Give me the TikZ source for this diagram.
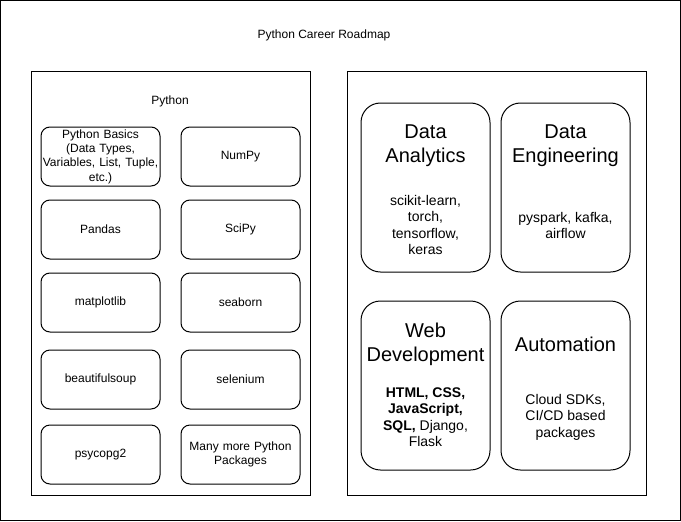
\documentclass[tikz,border=0pt]{standalone}
\usepackage{fontspec}
\setmainfont{Liberation Sans}
\usetikzlibrary{positioning}

\begin{document}
\begin{tikzpicture}
		[x=0.75pt,y=-0.75pt,line width=0.75pt,
		frame/.style={draw,minimum height=318pt,inner sep=0pt},
		small box/.style={draw,rounded corners=6.75pt,minimum width=89.25pt,minimum height=44.25pt,inner sep=1pt,text width=87pt,align=center,font=\fontsize{9}{10.8}\selectfont},
		big box/.style={draw,rounded corners=14.6pt,minimum width=96.75pt,minimum height=126.75pt,inner sep=0pt},
		title text/.style={align=center,inner sep=0pt,font=\fontsize{15}{18}\selectfont},
		sub text/.style={align=center,inner sep=0pt,font=\fontsize{10.5}{12.3}\selectfont}]
		\useasboundingbox (0,0) rectangle (681,521);
		\draw (0.5,0.5) rectangle (680.5,520.5);
		
		\node[font=\fontsize{9}{10.8}\selectfont] (title) at (324,35) {Python Career Roadmap};
		
		% left frame: python packages
		\node[frame,minimum width=209.25pt] (left) at (170.5,283) {};
		\node[font=\fontsize{9}{10.8}\selectfont] (python) at (170,101) {Python};
		
		\node[small box] (basics) at (100.5,156.5) {Python Basics\\(Data Types,\\Variables, List, Tuple,\\etc.)};
		\node[small box] (numpy) at (240.5,156.5) {NumPy};
		\node[small box] (pandas) at (100.5,229.5) {Pandas};
		\node[small box] (scipy) at (240.5,229.5) {SciPy};
		\node[small box] (matplotlib) at (100.5,302.5) {matplotlib};
		\node[small box] (seaborn) at (240.5,302.5) {seaborn};
		\node[small box] (bs4) at (100.5,379.5) {beautifulsoup};
		\node[small box] (selenium) at (240.5,379.5) {selenium};
		\node[small box] (psycopg) at (100.5,454.5) {psycopg2};
		\node[small box] (more) at (240.5,454.5) {Many more Python\\Packages};
		
		% right frame: career paths
		\node[frame,minimum width=224.25pt] (right) at (496.5,283) {};
		
		\node[big box] (da) at (425.5,187.5) {};
		\node[title text] (da title) at (425.5,146) {Data\\Analytics};
		\node[sub text] (da sub) at (425.5,225) {scikit-learn,\\torch,\\tensorflow,\\keras};
		
		\node[big box] (de) at (565.5,187.5) {};
		\node[title text] (de title) at (565.5,146) {Data\\Engineering};
		\node[sub text] (de sub) at (565.5,225.5) {pyspark, kafka,\\airflow};
		
		\node[big box] (web) at (425.5,385.5) {};
		\node[title text] (web title) at (425.5,344) {Web\\Development};
		\node[sub text] (web sub) at (425.5,417) {\textbf{HTML, CSS,}\\\textbf{JavaScript,}\\\textbf{SQL,} Django,\\Flask};
		
		\node[big box] (auto) at (565.5,385.5) {};
		\node[title text] (auto title) at (565.5,344) {Automation};
		\node[sub text] (auto sub) at (565.5,417) {Cloud SDKs,\\CI/CD based\\packages};
		\end{tikzpicture}
\end{document}
